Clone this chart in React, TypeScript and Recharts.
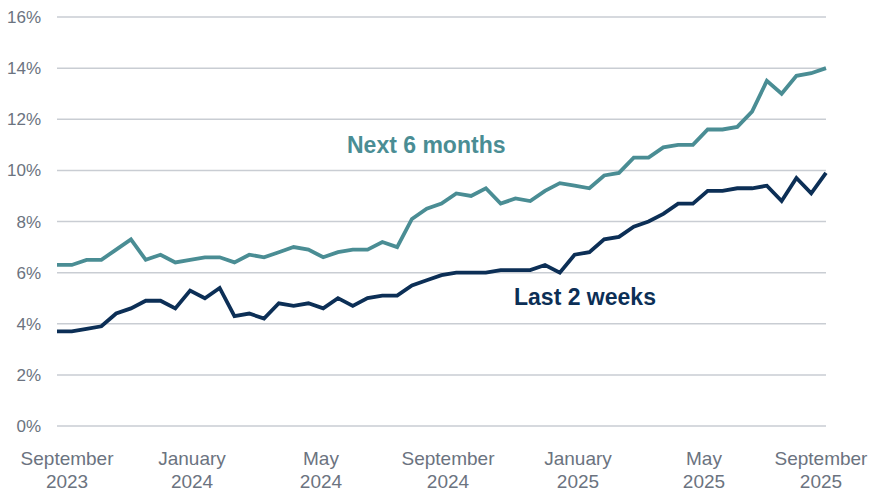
import { LineChart, Line, XAxis, YAxis, CartesianGrid } from "recharts";

// biweekly readings, late Aug 2023 -> late Aug 2025
const nextSixMonths = [
  6.3, 6.3, 6.5, 6.5, 6.9, 7.3, 6.5, 6.7, 6.4, 6.5, 6.6, 6.6, 6.4, 6.7, 6.6,
  6.8, 7.0, 6.9, 6.6, 6.8, 6.9, 6.9, 7.2, 7.0, 8.1, 8.5, 8.7, 9.1, 9.0, 9.3,
  8.7, 8.9, 8.8, 9.2, 9.5, 9.4, 9.3, 9.8, 9.9, 10.5, 10.5, 10.9, 11.0, 11.0,
  11.6, 11.6, 11.7, 12.3, 13.5, 13.0, 13.7, 13.8, 14.0,
];

const lastTwoWeeks = [
  3.7, 3.7, 3.8, 3.9, 4.4, 4.6, 4.9, 4.9, 4.6, 5.3, 5.0, 5.4, 4.3, 4.4, 4.2,
  4.8, 4.7, 4.8, 4.6, 5.0, 4.7, 5.0, 5.1, 5.1, 5.5, 5.7, 5.9, 6.0, 6.0, 6.0,
  6.1, 6.1, 6.1, 6.3, 6.0, 6.7, 6.8, 7.3, 7.4, 7.8, 8.0, 8.3, 8.7, 8.7, 9.2,
  9.2, 9.3, 9.3, 9.4, 8.8, 9.7, 9.1, 9.9,
];

// month ticks, placed in units of biweekly periods
const monthTicks = [0.68, 9.13, 17.85, 26.44, 35.23, 43.75, 51.66];
const monthLabels = [
  ["September", "2023"],
  ["January", "2024"],
  ["May", "2024"],
  ["September", "2024"],
  ["January", "2025"],
  ["May", "2025"],
  ["September", "2025"],
];

const yTicks = [0, 2, 4, 6, 8, 10, 12, 14, 16];

const data = nextSixMonths.map((v, i) => ({
  i,
  next: v,
  last: lastTwoWeeks[i],
}));

const TEAL = "#4a8d94";
const NAVY = "#0c2f56";
const GREY = "#6b7380";
const FONT = "'Liberation Sans', Arial, sans-serif";

function MonthTick(props: any) {
  const { x, y, payload } = props;
  const idx = monthTicks.indexOf(payload.value);
  const lines = monthLabels[idx] || ["", ""];
  return (
    <text
      x={x}
      y={y}
      textAnchor="middle"
      fill={GREY}
      fontSize={19}
      fontFamily={FONT}
    >
      <tspan x={x} dy={31}>
        {lines[0]}
      </tspan>
      <tspan x={x} dy={23}>
        {lines[1]}
      </tspan>
    </text>
  );
}

export default function App() {
  return (
    <div style={{ position: "absolute", left: 0, top: 0, width: 888, height: 493 }}>
      <LineChart
        width={888}
        height={493}
        data={data}
        margin={{ top: 17, right: 62, bottom: 0, left: 0 }}
      >
        <CartesianGrid vertical={false} stroke="#c9cdd3" strokeWidth={1.5} />
        <XAxis
          dataKey="i"
          type="number"
          domain={[0, 52]}
          ticks={monthTicks}
          interval={0}
          tick={<MonthTick />}
          tickLine={false}
          axisLine={false}
          height={67}
        />
        <YAxis
          domain={[0, 16]}
          ticks={yTicks}
          tickFormatter={(v) => `${v}%`}
          tick={{ fill: GREY, fontSize: 17, fontFamily: FONT }}
          tickLine={false}
          axisLine={false}
          tickMargin={10}
          width={57}
        />
        <Line
          dataKey="next"
          stroke={TEAL}
          strokeWidth={3.8}
          dot={false}
          type="linear"
          isAnimationActive={false}
        />
        <Line
          dataKey="last"
          stroke={NAVY}
          strokeWidth={3.8}
          dot={false}
          type="linear"
          isAnimationActive={false}
        />
      </LineChart>
      <div
        style={{
          position: "absolute",
          left: 347,
          top: 131,
          color: TEAL,
          fontFamily: FONT,
          fontWeight: 700,
          fontSize: 23,
          lineHeight: "28px",
          whiteSpace: "nowrap",
        }}
      >
        Next 6 months
      </div>
      <div
        style={{
          position: "absolute",
          left: 514,
          top: 283,
          color: NAVY,
          fontFamily: FONT,
          fontWeight: 700,
          fontSize: 23,
          lineHeight: "28px",
          whiteSpace: "nowrap",
        }}
      >
        Last 2 weeks
      </div>
    </div>
  );
}
